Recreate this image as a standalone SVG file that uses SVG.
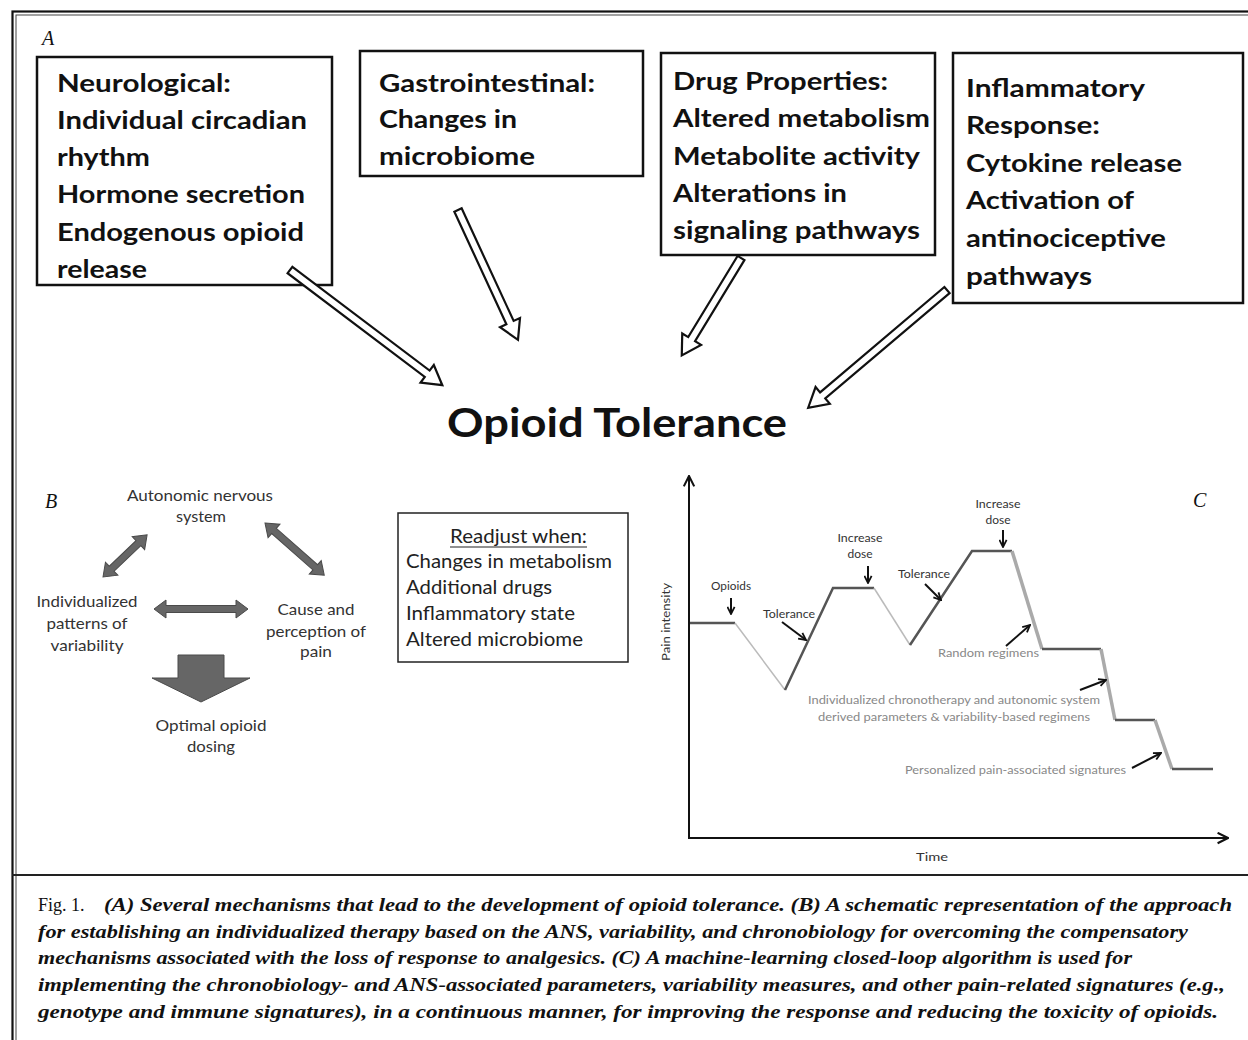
<svg xmlns="http://www.w3.org/2000/svg" width="1248" height="1040" viewBox="0 0 1248 1040">
<defs>
<style>
.bx{font-family:Lato,"Open Sans",sans-serif;font-weight:bold;font-size:25px;fill:#111}
.big{font-family:Lato,"Open Sans",sans-serif;font-weight:bold;font-size:40px;fill:#111}
.b{font-family:Lato,"Open Sans",sans-serif;font-size:16px;fill:#333}
.rd{font-family:Lato,"Open Sans",sans-serif;font-size:19px;fill:#222}
.c{font-family:Lato,"Open Sans",sans-serif;font-size:11px;fill:#333}
.cg{font-family:Lato,"Open Sans",sans-serif;font-size:11px;fill:#888}
.lbl{font-family:"Liberation Serif",serif;font-style:italic;font-size:20px;fill:#111}
.cap{font-family:"Liberation Serif",serif;font-style:italic;font-weight:bold;font-size:18px;fill:#111}
.capr{font-family:"Liberation Serif",serif;font-size:18px;fill:#111}
.box{fill:#fff;stroke:#111;stroke-width:2.5}
.hol{fill:#fff;stroke:#111;stroke-width:2.2;stroke-linejoin:miter}
.dbl{fill:#666;stroke:#4a4a4a;stroke-width:1}
.dk{fill:none;stroke:#555;stroke-width:2.5}
.lt{fill:none;stroke:#bbb;stroke-width:1.5}
.gr{fill:none;stroke:#aaa;stroke-width:3.5}
.sa{stroke:#111;stroke-width:2;fill:none;marker-end:url(#chev)}
.ax{stroke:#111;stroke-width:2;fill:none;marker-end:url(#axh)}
</style>
<marker id="chev" viewBox="0 0 10 10" refX="9" refY="5" markerWidth="9" markerHeight="9" markerUnits="userSpaceOnUse" orient="auto"><path d="M1,1 L9,5 L1,9" fill="none" stroke="#111" stroke-width="2"/></marker>
<marker id="axh" viewBox="0 0 10 10" refX="9" refY="5" markerWidth="13" markerHeight="13" markerUnits="userSpaceOnUse" orient="auto"><path d="M1,1 L9,5 L1,9" fill="none" stroke="#111" stroke-width="1.6"/></marker>
</defs>

<g id="frame">
<rect x="12.5" y="11.5" width="1260" height="1060" fill="none" stroke="#111" stroke-width="2.2"/>
<rect x="16" y="15" width="1260" height="1060" fill="none" stroke="#444" stroke-width="1"/>
<line x1="12" y1="875" x2="1260" y2="875" stroke="#222" stroke-width="2"/>
</g>

<text class="lbl" x="42" y="45">A</text>

<g id="neuro">
<rect class="box" x="37" y="57" width="295" height="228"/>
<text class="bx" x="57" y="92" textLength="174" lengthAdjust="spacingAndGlyphs">Neurological:</text>
<text class="bx" x="57" y="129" textLength="250" lengthAdjust="spacingAndGlyphs">Individual circadian</text>
<text class="bx" x="57" y="166" textLength="93" lengthAdjust="spacingAndGlyphs">rhythm</text>
<text class="bx" x="57" y="203" textLength="248" lengthAdjust="spacingAndGlyphs">Hormone secretion</text>
<text class="bx" x="57" y="241" textLength="247" lengthAdjust="spacingAndGlyphs">Endogenous opioid</text>
<text class="bx" x="57" y="278" textLength="90" lengthAdjust="spacingAndGlyphs">release</text>
</g>

<g id="gastro">
<rect class="box" x="360" y="51" width="283" height="125"/>
<text class="bx" x="379" y="92" textLength="216" lengthAdjust="spacingAndGlyphs">Gastrointestinal:</text>
<text class="bx" x="379" y="128" textLength="138" lengthAdjust="spacingAndGlyphs">Changes in</text>
<text class="bx" x="379" y="165" textLength="156" lengthAdjust="spacingAndGlyphs">microbiome</text>
</g>

<g id="drug">
<rect class="box" x="661" y="53" width="274" height="202"/>
<text class="bx" x="673" y="90" textLength="215" lengthAdjust="spacingAndGlyphs">Drug Properties:</text>
<text class="bx" x="673" y="127" textLength="257" lengthAdjust="spacingAndGlyphs">Altered metabolism</text>
<text class="bx" x="673" y="165" textLength="247" lengthAdjust="spacingAndGlyphs">Metabolite activity</text>
<text class="bx" x="673" y="202" textLength="174" lengthAdjust="spacingAndGlyphs">Alterations in</text>
<text class="bx" x="673" y="239" textLength="247" lengthAdjust="spacingAndGlyphs">signaling pathways</text>
</g>

<g id="inflam">
<rect class="box" x="953" y="53" width="290" height="250"/>
<text class="bx" x="966" y="97" textLength="179" lengthAdjust="spacingAndGlyphs">Inflammatory</text>
<text class="bx" x="966" y="134" textLength="134" lengthAdjust="spacingAndGlyphs">Response:</text>
<text class="bx" x="966" y="172" textLength="216" lengthAdjust="spacingAndGlyphs">Cytokine release</text>
<text class="bx" x="966" y="209" textLength="168" lengthAdjust="spacingAndGlyphs">Activation of</text>
<text class="bx" x="966" y="247" textLength="200" lengthAdjust="spacingAndGlyphs">antinociceptive</text>
<text class="bx" x="966" y="285" textLength="126" lengthAdjust="spacingAndGlyphs">pathways</text>
</g>

<g id="tolerance">
<text class="big" x="447" y="437" textLength="340" lengthAdjust="spacingAndGlyphs">Opioid Tolerance</text>
</g>

<g id="connectors-A">
<polygon class="hol" transform="translate(290,270) rotate(37.1)" points="0,-4 172,-4 172,-11 191,0 172,11 172,4 0,4"/>
<polygon class="hol" transform="translate(458,210) rotate(65.2)" points="0,-4 124,-4 124,-11 143,0 124,11 124,4 0,4"/>
<polygon class="hol" transform="translate(741,258) rotate(121.3)" points="0,-4 95,-4 95,-11 114,0 95,11 95,4 0,4"/>
<polygon class="hol" transform="translate(947,290) rotate(139.7)" points="0,-4 163,-4 163,-11 182,0 163,11 163,4 0,4"/>
</g>

<text class="lbl" x="45" y="508">B</text>

<g id="ans">
<text class="b" x="200" y="501" text-anchor="middle" textLength="146" lengthAdjust="spacingAndGlyphs">Autonomic nervous</text>
<text class="b" x="201" y="522" text-anchor="middle" textLength="50" lengthAdjust="spacingAndGlyphs">system</text>
</g>
<g id="patterns">
<text class="b" x="87" y="607" text-anchor="middle" textLength="101" lengthAdjust="spacingAndGlyphs">Individualized</text>
<text class="b" x="87" y="629" text-anchor="middle" textLength="81" lengthAdjust="spacingAndGlyphs">patterns of</text>
<text class="b" x="87" y="651" text-anchor="middle" textLength="73" lengthAdjust="spacingAndGlyphs">variability</text>
</g>
<g id="cause">
<text class="b" x="316" y="615" text-anchor="middle" textLength="77" lengthAdjust="spacingAndGlyphs">Cause and</text>
<text class="b" x="316" y="637" text-anchor="middle" textLength="100" lengthAdjust="spacingAndGlyphs">perception of</text>
<text class="b" x="316" y="657" text-anchor="middle" textLength="32" lengthAdjust="spacingAndGlyphs">pain</text>
</g>
<g id="optimal">
<text class="b" x="211" y="731" text-anchor="middle" textLength="111" lengthAdjust="spacingAndGlyphs">Optimal opioid</text>
<text class="b" x="211" y="752" text-anchor="middle" textLength="48" lengthAdjust="spacingAndGlyphs">dosing</text>
</g>

<g id="connectors-B">
<polygon class="dbl" transform="translate(103,577) rotate(-43.7)" points="0,0 12,-9 12,-3.5 49,-3.5 49,-9 61,0 49,9 49,3.5 12,3.5 12,9"/>
<polygon class="dbl" transform="translate(265,523) rotate(41.4)" points="0,0 12,-9 12,-3.5 67,-3.5 67,-9 79,0 67,9 67,3.5 12,3.5 12,9"/>
<polygon class="dbl" transform="translate(154,609)" points="0,0 12,-9 12,-3.5 82,-3.5 82,-9 94,0 82,9 82,3.5 12,3.5 12,9"/>
<polygon class="dbl" points="178,655 224,655 224,678 250,678 201,702 152,678 178,678"/>
</g>

<g id="readjust">
<rect x="398" y="513" width="230" height="149" fill="#fff" stroke="#222" stroke-width="1.5"/>
<text class="rd" x="518.5" y="543" text-anchor="middle" textLength="137" lengthAdjust="spacingAndGlyphs">Readjust when:</text>
<line x1="450" y1="547" x2="587" y2="547" stroke="#222" stroke-width="1.2"/>
<text class="rd" x="406" y="568" textLength="206" lengthAdjust="spacingAndGlyphs">Changes in metabolism</text>
<text class="rd" x="406" y="594" textLength="146" lengthAdjust="spacingAndGlyphs">Additional drugs</text>
<text class="rd" x="406" y="620" textLength="169" lengthAdjust="spacingAndGlyphs">Inflammatory state</text>
<text class="rd" x="406" y="646" textLength="177" lengthAdjust="spacingAndGlyphs">Altered microbiome</text>
</g>

<text class="lbl" x="1193" y="507">C</text>

<g id="chart">
<line class="ax" x1="689" y1="839" x2="689" y2="476"/>
<line class="ax" x1="688" y1="838" x2="1228" y2="838"/>
<text class="c" x="932" y="861" text-anchor="middle" font-size="12" textLength="32" lengthAdjust="spacingAndGlyphs">Time</text>
<text class="c" transform="translate(670,622) rotate(-90)" text-anchor="middle" textLength="78" lengthAdjust="spacingAndGlyphs">Pain intensity</text>
<polyline class="dk" points="690,623 735,623"/>
<polyline class="lt" points="735,623 785,690"/>
<polyline class="dk" points="785,690 833,588 874,588"/>
<polyline class="lt" points="874,588 910,645"/>
<polyline class="dk" points="910,645 972,551 1012,551"/>
<polyline class="gr" points="1012,551 1042,649"/>
<polyline class="dk" points="1042,649 1101,649"/>
<polyline class="gr" points="1101,649 1115,720"/>
<polyline class="dk" points="1115,720 1155,720"/>
<polyline class="gr" points="1155,720 1172,769"/>
<polyline class="dk" points="1172,769 1213,769"/>
</g>

<g id="labels-C">
<text class="c" x="731" y="590" text-anchor="middle" textLength="40" lengthAdjust="spacingAndGlyphs">Opioids</text>
<text class="c" x="789" y="618" text-anchor="middle" textLength="52" lengthAdjust="spacingAndGlyphs">Tolerance</text>
<text class="c" x="860" y="542" text-anchor="middle" textLength="45" lengthAdjust="spacingAndGlyphs">Increase</text>
<text class="c" x="860" y="558" text-anchor="middle" textLength="25" lengthAdjust="spacingAndGlyphs">dose</text>
<text class="c" x="924" y="578" text-anchor="middle" textLength="52" lengthAdjust="spacingAndGlyphs">Tolerance</text>
<text class="c" x="998" y="508" text-anchor="middle" textLength="45" lengthAdjust="spacingAndGlyphs">Increase</text>
<text class="c" x="998" y="524" text-anchor="middle" textLength="25" lengthAdjust="spacingAndGlyphs">dose</text>
<text class="cg" x="938" y="657" textLength="101" lengthAdjust="spacingAndGlyphs">Random regimens</text>
<text class="cg" x="954" y="704" text-anchor="middle" textLength="292" lengthAdjust="spacingAndGlyphs">Individualized chronotherapy and autonomic system</text>
<text class="cg" x="954" y="721" text-anchor="middle" textLength="272" lengthAdjust="spacingAndGlyphs">derived parameters &amp; variability-based regimens</text>
<text class="cg" x="905" y="774" textLength="221" lengthAdjust="spacingAndGlyphs">Personalized pain-associated signatures</text>
</g>

<g id="connectors-C">
<line class="sa" x1="731" y1="598" x2="731" y2="614"/>
<line class="sa" x1="782" y1="622" x2="806" y2="640"/>
<line class="sa" x1="868" y1="566" x2="868" y2="583"/>
<line class="sa" x1="925" y1="584" x2="941" y2="600"/>
<line class="sa" x1="1003" y1="530" x2="1003" y2="547"/>
<line class="sa" x1="1006" y1="646" x2="1030" y2="625"/>
<line class="sa" x1="1080" y1="690" x2="1106" y2="680"/>
<line class="sa" x1="1132" y1="768" x2="1161" y2="753"/>
</g>

<g id="caption">
<text class="capr" x="38" y="911">Fig. 1.</text>
<text class="cap" x="104" y="911" textLength="1128" lengthAdjust="spacingAndGlyphs">(A) Several mechanisms that lead to the development of  opioid tolerance. (B) A schematic representation of the approach</text>
<text class="cap" x="38" y="938" textLength="1150" lengthAdjust="spacingAndGlyphs">for establishing an individualized therapy based on the ANS, variability, and chronobiology for overcoming the compensatory</text>
<text class="cap" x="38" y="964" textLength="1094" lengthAdjust="spacingAndGlyphs">mechanisms associated with the loss of  response to analgesics. (C) A machine-learning closed-loop algorithm is used for</text>
<text class="cap" x="38" y="991" textLength="1187" lengthAdjust="spacingAndGlyphs">implementing the chronobiology- and ANS-associated parameters, variability measures, and other pain-related signatures (e.g.,</text>
<text class="cap" x="38" y="1018" textLength="1180" lengthAdjust="spacingAndGlyphs">genotype and immune signatures), in a continuous manner, for improving the response and reducing the toxicity of  opioids.</text>
</g>
</svg>
